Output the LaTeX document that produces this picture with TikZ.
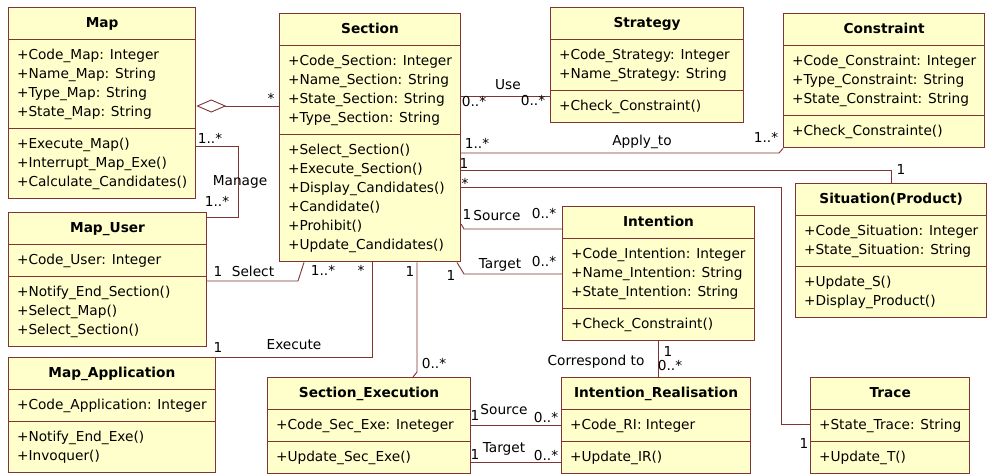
\documentclass[tikz,border=0pt]{standalone}
\usepackage{fontspec}
\setmainfont{DejaVu Sans}
\usetikzlibrary{arrows.meta,shapes.multipart}

\definecolor{umlfill}{RGB}{255,255,204}
\definecolor{umlline}{RGB}{128,52,52}

\begin{document}
\begin{tikzpicture}[x=1pt,y=-1pt,thin]
\tikzstyle{umlclass}=[rectangle split, rectangle split parts=3, rectangle split part align={center,left,left}, draw=umlline, fill=umlfill, line width=1.1pt, anchor=north west, inner xsep=8.5pt, inner ysep=6pt, align=left, font=\fontsize{13.7}{19}\selectfont]
\tikzstyle{assoc}=[draw=umlline, line width=0.9pt]
\tikzstyle{lbl}=[font=\fontsize{13.7}{19}\selectfont, inner sep=0pt]

\useasboundingbox (0,0) rectangle (988,474);

% classes
\node[umlclass, minimum width=185pt] (Map) at (8,7)
  {\strut\textbf{Map}
   \nodepart{two}\strut+Code\_Map: Integer\\+Name\_Map: String\\+Type\_Map: String\\+State\_Map: String\strut
   \nodepart{three}\strut+Execute\_Map()\\+Interrupt\_Map\_Exe()\\+Calculate\_Candidates()\strut};
\node[umlclass, minimum width=181pt] (Sec) at (279,13)
  {\strut\textbf{Section}
   \nodepart{two}\strut+Code\_Section: Integer\\+Name\_Section: String\\+State\_Section: String\\+Type\_Section: String\strut
   \nodepart{three}\strut+Select\_Section()\\+Execute\_Section()\\+Display\_Candidates()\\+Candidate()\\+Prohibit()\\+Update\_Candidates()\strut};
\node[umlclass, minimum width=193pt] (Strat) at (550,7)
  {\strut\textbf{Strategy}
   \nodepart{two}\strut+Code\_Strategy: Integer\\+Name\_Strategy: String\strut
   \nodepart{three}\strut+Check\_Constraint()};
\node[umlclass, minimum width=198pt] (Cons) at (783,13)
  {\strut\textbf{Constraint}
   \nodepart{two}\strut+Code\_Constraint: Integer\\+Type\_Constraint: String\\+State\_Constraint: String\strut
   \nodepart{three}\strut+Check\_Constrainte()};
\node[umlclass, minimum width=190pt] (Sit) at (795,183)
  {\strut\textbf{Situation(Product)}
   \nodepart{two}\strut+Code\_Situation: Integer\\+State\_Situation: String\strut
   \nodepart{three}\strut+Update\_S()\\+Display\_Product()\strut};
\node[umlclass, minimum width=198pt] (User) at (8,212)
  {\strut\textbf{Map\_User}
   \nodepart{two}\strut+Code\_User: Integer
   \nodepart{three}\strut+Notify\_End\_Section()\\+Select\_Map()\\+Select\_Section()\strut};
\node[umlclass, minimum width=192pt] (Int) at (562,206)
  {\strut\textbf{Intention}
   \nodepart{two}\strut+Code\_Intention: Integer\\+Name\_Intention: String\\+State\_Intention: String\strut
   \nodepart{three}\strut+Check\_Constraint()};
\node[umlclass, minimum width=205pt] (App) at (8,357)
  {\strut\textbf{Map\_Application}
   \nodepart{two}\strut+Code\_Application: Integer
   \nodepart{three}\strut+Notify\_End\_Exe()\\+Invoquer()\strut};
\node[umlclass, minimum width=203pt] (Exe) at (267,377)
  {\strut\textbf{Section\_Execution}
   \nodepart{two}\strut+Code\_Sec\_Exe: Ineteger
   \nodepart{three}\strut+Update\_Sec\_Exe()};
\node[umlclass, minimum width=189pt] (Real) at (561,377)
  {\strut\textbf{Intention\_Realisation}
   \nodepart{two}\strut+Code\_RI: Integer
   \nodepart{three}\strut+Update\_IR()};
\node[umlclass, minimum width=158pt] (Trace) at (810,377)
  {\strut\textbf{Trace}
   \nodepart{two}\strut+State\_Trace: String
   \nodepart{three}\strut+Update\_T()};

% associations
\draw[assoc, {Diamond[open,length=30pt,width=13pt]}-] (Map.east |- 0,106) -- (Sec.west |- 0,106)
  node[lbl] at (271,98) {*};
\draw[assoc] (Map.east |- 0,146) -- (238,146) -- (238,217) -- (User.east |- 0,217)
  node[lbl] at (210,138) {1..*}
  node[lbl] at (240,182) {Manage}
  node[lbl] at (217,201) {1..*};
\draw[assoc] (Sec.east |- 0,96) -- (Strat.west |- 0,96)
  node[lbl] at (474,102) {0..*}
  node[lbl] at (508,85) {Use}
  node[lbl] at (533,101) {0..*};
\draw[assoc] (Sec.east |- 0,153) -- (779,153) -- (Cons.south west)
  node[lbl] at (477,143) {1..*}
  node[lbl] at (642,142) {Apply\_to}
  node[lbl] at (766,137) {1..*};
\draw[assoc] (Sec.east |- 0,170) -- (Sit.north |- 0,170) -- (Sit.north)
  node[lbl] at (464,164) {1}
  node[lbl] at (901,170) {1};
\draw[assoc] (Sec.east |- 0,187) -- (781,187) -- (781,424) -- (Trace.west |- 0,424)
  node[lbl] at (465,183) {*}
  node[lbl] at (804,443) {1};
\draw[assoc] (Sec.east |- 0,224) -- (464,229) -- (Int.west |- 0,229)
  node[lbl] at (467,215) {1}
  node[lbl] at (497,216) {Source}
  node[lbl] at (544,214) {0..*};
\draw[assoc] (Sec.south -| 457,0) -- (464,274) -- (Int.west |- 0,274)
  node[lbl] at (451,276) {1}
  node[lbl] at (500,265) {Target}
  node[lbl] at (544,262) {0..*};
\draw[assoc] (User.east |- 0,281) -- (298,281) -- (Sec.south -| 304,0)
  node[lbl] at (218,272) {1}
  node[lbl] at (253,271) {Select}
  node[lbl] at (323,270) {1..*};
\draw[assoc] (Sec.south -| 372,0) -- (372,357) -- (App.east |- 0,357)
  node[lbl] at (361,270) {*}
  node[lbl] at (294,345) {Execute}
  node[lbl] at (218,348) {1};
\draw[assoc] (Sec.south -| 417,0) -- (417,372) -- (Exe.north -| 413,0)
  node[lbl] at (410,272) {1}
  node[lbl] at (434,364) {0..*};
\draw[assoc] (Int.south) -- (Int.south |- Real.north)
  node[lbl] at (596,362) {Correspond to}
  node[lbl] at (668,352) {1}
  node[lbl] at (670,366) {0..*};
\draw[assoc] (Exe.east |- 0,425) -- (Real.west |- 0,425)
  node[lbl] at (475,416) {1}
  node[lbl] at (504,410) {Source}
  node[lbl] at (546,418) {0..*};
\draw[assoc] (Exe.east |- 0,462) -- (Real.west |- 0,462)
  node[lbl] at (475,454) {1}
  node[lbl] at (504,449) {Target}
  node[lbl] at (546,456) {0..*};
\end{tikzpicture}
\end{document}
